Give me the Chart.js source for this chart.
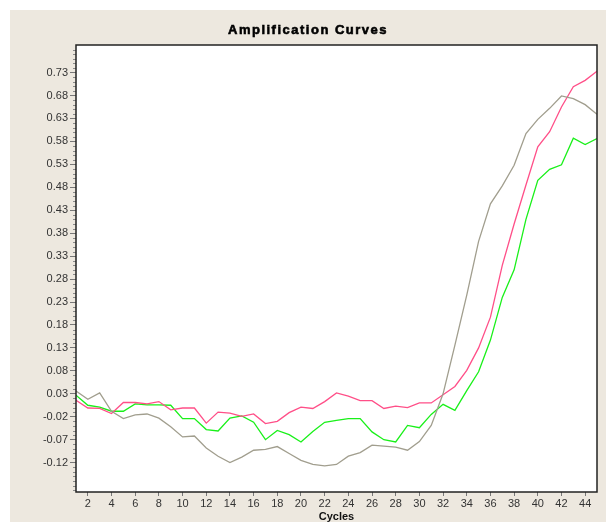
<!DOCTYPE html>
<html>
<head>
<meta charset="utf-8">
<title>Amplification Curves</title>
<script src="https://cdn.jsdelivr.net/npm/chart.js@4.4.1/dist/chart.umd.min.js"></script>
<style>
    html, body { margin: 0; padding: 0; background: #fff; }
    .frame {
        position: absolute;
        left: 10px;
        top: 10px;
        width: 596px;
        height: 512px;
        background: #ede8df;
    }
</style>
</head>
<body>
<div class="frame"><canvas id="chartAmp"></canvas></div>
<script>
// ===== data
const chartTitle = "Amplification Curves";
const xTitle = "Cycles";

const cycles = [
    1, 2, 3, 4, 5, 6, 7, 8, 9, 10, 11, 12, 13, 14, 15, 16, 17, 18, 19, 20, 21, 22, 23,
    24, 25, 26, 27, 28, 29, 30, 31, 32, 33, 34, 35, 36, 37, 38, 39, 40, 41, 42, 43, 44, 45,
];

const grayCurve = [
    0.036, 0.018, 0.032, -0.008, -0.024, -0.016, -0.014, -0.023, -0.042, -0.064,
    -0.062, -0.088, -0.106, -0.120, -0.108, -0.093, -0.091, -0.085, -0.100, -0.115,
    -0.124, -0.127, -0.124, -0.106, -0.098, -0.082, -0.084, -0.086, -0.093, -0.074,
    -0.039, 0.030, 0.136, 0.245, 0.362, 0.444, 0.483, 0.528, 0.597, 0.628,
    0.652, 0.679, 0.673, 0.660, 0.639,
];

const pinkCurve = [
    0.016, -0.001, -0.002, -0.013, 0.011, 0.011, 0.008, 0.013, -0.005, -0.001,
    -0.001, -0.034, -0.010, -0.012, -0.019, -0.014, -0.035, -0.030, -0.011, 0.001,
    -0.002, 0.013, 0.032, 0.025, 0.015, 0.015, -0.002, 0.003, 0.000, 0.010,
    0.010, 0.028, 0.046, 0.081, 0.130, 0.197, 0.310, 0.400, 0.485, 0.568,
    0.601, 0.655, 0.699, 0.713, 0.733,
];

const greenCurve = [
    0.027, 0.005, 0.001, -0.008, -0.008, 0.008, 0.006, 0.006, 0.005, -0.024,
    -0.024, -0.048, -0.051, -0.023, -0.018, -0.032, -0.070, -0.050, -0.059, -0.075,
    -0.052, -0.032, -0.028, -0.024, -0.024, -0.053, -0.070, -0.075, -0.039, -0.044,
    -0.015, 0.007, -0.006, 0.037, 0.078, 0.147, 0.240, 0.300, 0.410, 0.495,
    0.519, 0.529, 0.587, 0.573, 0.586,
];

const xTickValues = [2, 4, 6, 8, 10, 12, 14, 16, 18, 20, 22, 24, 26, 28, 30, 32, 34, 36, 38, 40, 42, 44];
const yTickValues = [
    -0.12, -0.07, -0.02, 0.03, 0.08, 0.13, 0.18, 0.23, 0.28, 0.33,
    0.38, 0.43, 0.48, 0.53, 0.58, 0.63, 0.68, 0.73,
];

// ===== helpers
const toPoints = (ys) => cycles.map((c, i) => ({ x: c, y: ys[i] }));

Chart.defaults.font.family = '"Liberation Sans", Arial, sans-serif';
Chart.defaults.font.size = 11;
Chart.defaults.color = "#333";

// white plot area
const plotBackground = {
    id: "plotBackground",
    beforeDraw(chart) {
        const { ctx, chartArea: a } = chart;
        ctx.save();
        ctx.fillStyle = "#ffffff";
        ctx.fillRect(a.left, a.top, a.right - a.left, a.bottom - a.top);
        ctx.restore();
    },
};

// frame round the plot + minor ticks on the y axis + spaced title
const plotDecor = {
    id: "plotDecor",
    afterDraw(chart) {
        const { ctx, chartArea: a } = chart;
        const y = chart.scales.y;
        ctx.save();

        // minor ticks every 0.01
        ctx.strokeStyle = "#8a8a8a";
        ctx.lineWidth = 1;
        ctx.beginPath();
        for (let k = -18; k <= 78; k++) {
            const v = k / 100;
            if (yTickValues.some((t) => Math.abs(t - v) < 1e-6)) continue;
            const py = Math.round(y.getPixelForValue(v)) + 0.5;
            if (py < a.top || py > a.bottom) continue;
            ctx.moveTo(a.left - 3, py);
            ctx.lineTo(a.left, py);
        }
        ctx.stroke();

        // frame
        ctx.strokeStyle = "#222";
        ctx.lineWidth = 1.5;
        ctx.strokeRect(a.left, a.top, a.right - a.left, a.bottom - a.top);

        // title (a bit heavier than plain bold, like the original)
        ctx.fillStyle = "#000";
        ctx.strokeStyle = "#000";
        ctx.lineWidth = 0.6;
        ctx.font = 'bold 13px "Liberation Sans", Arial, sans-serif';
        ctx.letterSpacing = "1.5px";
        ctx.textAlign = "center";
        ctx.textBaseline = "middle";
        ctx.fillText(chartTitle, chart.width / 2, 20);
        ctx.strokeText(chartTitle, chart.width / 2, 20);
        ctx.restore();
    },
};

const lineStyle = { borderWidth: 1.3, pointRadius: 0, tension: 0, fill: false };

new Chart(document.getElementById("chartAmp"), {
    type: "line",
    data: {
        datasets: [
            { label: "Curve 1", data: toPoints(grayCurve), borderColor: "#a19e8e", ...lineStyle },
            { label: "Curve 2", data: toPoints(pinkCurve), borderColor: "#ff4f88", ...lineStyle },
            { label: "Curve 3", data: toPoints(greenCurve), borderColor: "#19f019", ...lineStyle },
        ],
    },
    options: {
        responsive: true,
        maintainAspectRatio: false,
        animation: false,
        layout: { padding: { top: 35, right: 9, left: 0, bottom: 0 } },
        plugins: {
            legend: { display: false },
            title: { display: false },
            tooltip: { enabled: false },
        },
        scales: {
            x: {
                type: "linear",
                min: 1,
                max: 45,
                afterBuildTicks: (scale) => {
                    scale.ticks = xTickValues.map((v) => ({ value: v }));
                },
                afterFit: (scale) => {
                    scale.height = 30;
                },
                ticks: { autoSkip: false, maxRotation: 0, padding: 1, color: "#333" },
                grid: { drawOnChartArea: false, drawTicks: true, tickLength: 4, tickColor: "#777" },
                border: { display: false },
                title: {
                    display: true,
                    text: xTitle,
                    font: { weight: "bold", size: 11 },
                    color: "#111",
                    padding: { top: 0, bottom: -2 },
                },
            },
            y: {
                type: "linear",
                min: -0.184,
                max: 0.79,
                afterBuildTicks: (scale) => {
                    scale.ticks = yTickValues.map((v) => ({ value: v }));
                },
                afterFit: (scale) => {
                    scale.width = 66;
                },
                ticks: {
                    padding: 2,
                    color: "#333",
                    callback: (v) => Number(v).toFixed(2),
                },
                grid: { drawOnChartArea: false, drawTicks: true, tickLength: 6, tickColor: "#777" },
                border: { display: false },
            },
        },
    },
    plugins: [plotBackground, plotDecor],
});
</script>
</body>
</html>
